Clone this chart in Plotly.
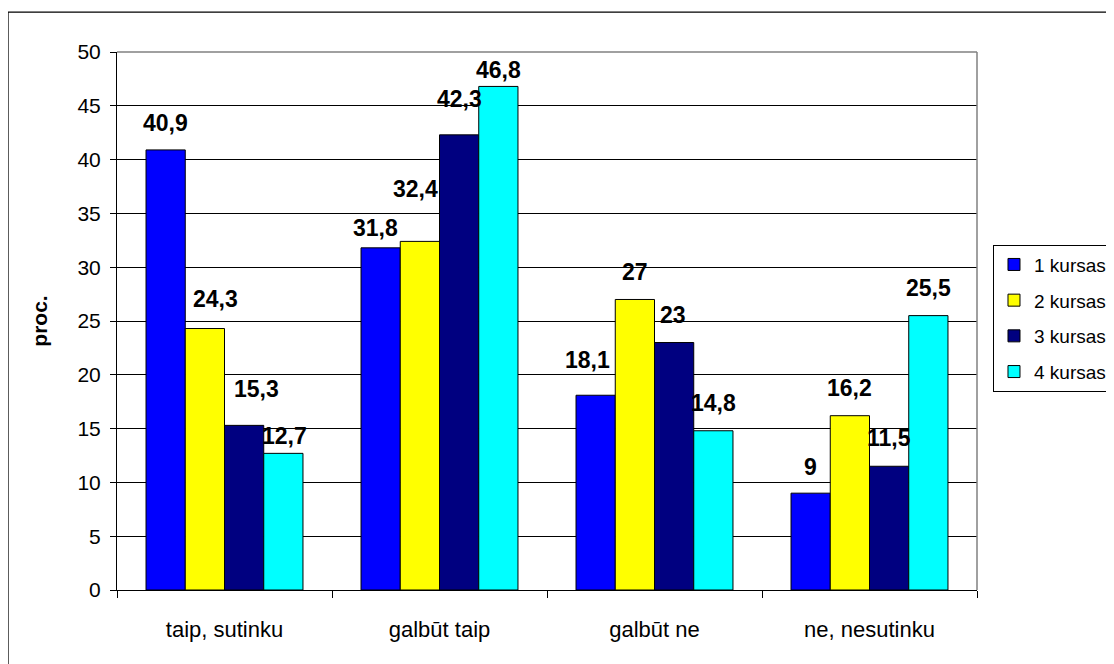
import plotly.graph_objects as go

categories = ["taip, sutinku", "galbūt taip", "galbūt ne", "ne, nesutinku"]
series_names = ["1 kursas", "2 kursas", "3 kursas", "4 kursas"]
kursas1 = [40.9, 31.8, 18.1, 9]
kursas2 = [24.3, 32.4, 27, 16.2]
kursas3 = [15.3, 42.3, 23, 11.5]
kursas4 = [12.7, 46.8, 14.8, 25.5]
y_ticks = [0, 5, 10, 15, 20, 25, 30, 35, 40, 45, 50]
y_title = "proc."

series_values = [kursas1, kursas2, kursas3, kursas4]
colors = ["#0000FF", "#FFFF00", "#000080", "#00FFFF"]

# label style offsets (pixels) relative to the bar top / bar centre
label_dy = [[27, 20, 35, 26], [30, 52, 27, 28], [36, 36, 28, 28], [17, 16, 28, 28]]
label_dx = [[0, -5, -8, 0], [11, -4, 0, 0], [12, 0, -1, 0], [1, 0, 0, 0]]

FONT = "Liberation Sans, Arial, sans-serif"
BARGAP = 0.27

fig = go.Figure()
for j, (name, vals) in enumerate(zip(series_names, series_values)):
    fig.add_trace(go.Bar(
        x=categories, y=vals, name=name,
        marker=dict(color=colors[j], line=dict(color="black", width=1)),
        legendgroup=name,
    ))

w = (1 - BARGAP) / len(series_values)
annotations = []
for j, vals in enumerate(series_values):
    for i, v in enumerate(vals):
        annotations.append(dict(
            x=i + (j - 1.5) * w, y=v, xref="x", yref="y",
            text=f"{v:g}".replace(".", ","), showarrow=False,
            font=dict(family=FONT, size=23, color="black", weight="bold"),
            xanchor="center", yanchor="middle",
            yshift=label_dy[j][i], xshift=label_dx[j][i],
        ))

fig.update_layout(
    width=1106, height=656,
    margin=dict(l=109, r=137, t=44, b=74, autoexpand=False),
    paper_bgcolor="white", plot_bgcolor="white",
    barmode="group", bargap=BARGAP, bargroupgap=0,
    font=dict(family=FONT, size=19, color="black"),
    showlegend=True,
    legend=dict(
        x=1.0186, y=0.642, xanchor="left", yanchor="top",
        bordercolor="black", borderwidth=1,
        font=dict(family=FONT, size=19, color="black"),
        tracegroupgap=8, itemwidth=30,
    ),
    annotations=annotations,
    shapes=[
        # outer chart border
        dict(type="rect", xref="paper", yref="paper",
             x0=-0.1267, x1=1.3, y0=-0.3, y1=1.0743,
             line=dict(color="black", width=1.2), layer="below"),
        # grey plot area frame top / right
        dict(type="line", xref="paper", yref="paper", x0=0, x1=1, y0=1, y1=1,
             line=dict(color="#808080", width=1.5), layer="above"),
        dict(type="line", xref="paper", yref="paper", x0=1, x1=1, y0=0, y1=1,
             line=dict(color="#808080", width=1.5), layer="above"),
    ],
)

fig.update_yaxes(
    range=[0, 50], tickvals=y_ticks,
    showgrid=True, gridcolor="black", gridwidth=1,
    showline=True, linecolor="black", linewidth=1,
    ticks="outside", ticklen=6, tickcolor="black",
    tickfont=dict(family=FONT, size=21, color="black"),
    ticklabelstandoff=5,
    zeroline=False,
    title=dict(text=y_title, font=dict(family=FONT, size=21, color="black", weight="bold"),
               standoff=24),
)
fig.update_xaxes(
    showline=True, linecolor="black", linewidth=1,
    ticks="outside", ticklen=7, tickcolor="black", tickson="boundaries",
    tickfont=dict(family=FONT, size=22, color="black"),
    ticklabelstandoff=20,
)

fig.write_html("out.html")
